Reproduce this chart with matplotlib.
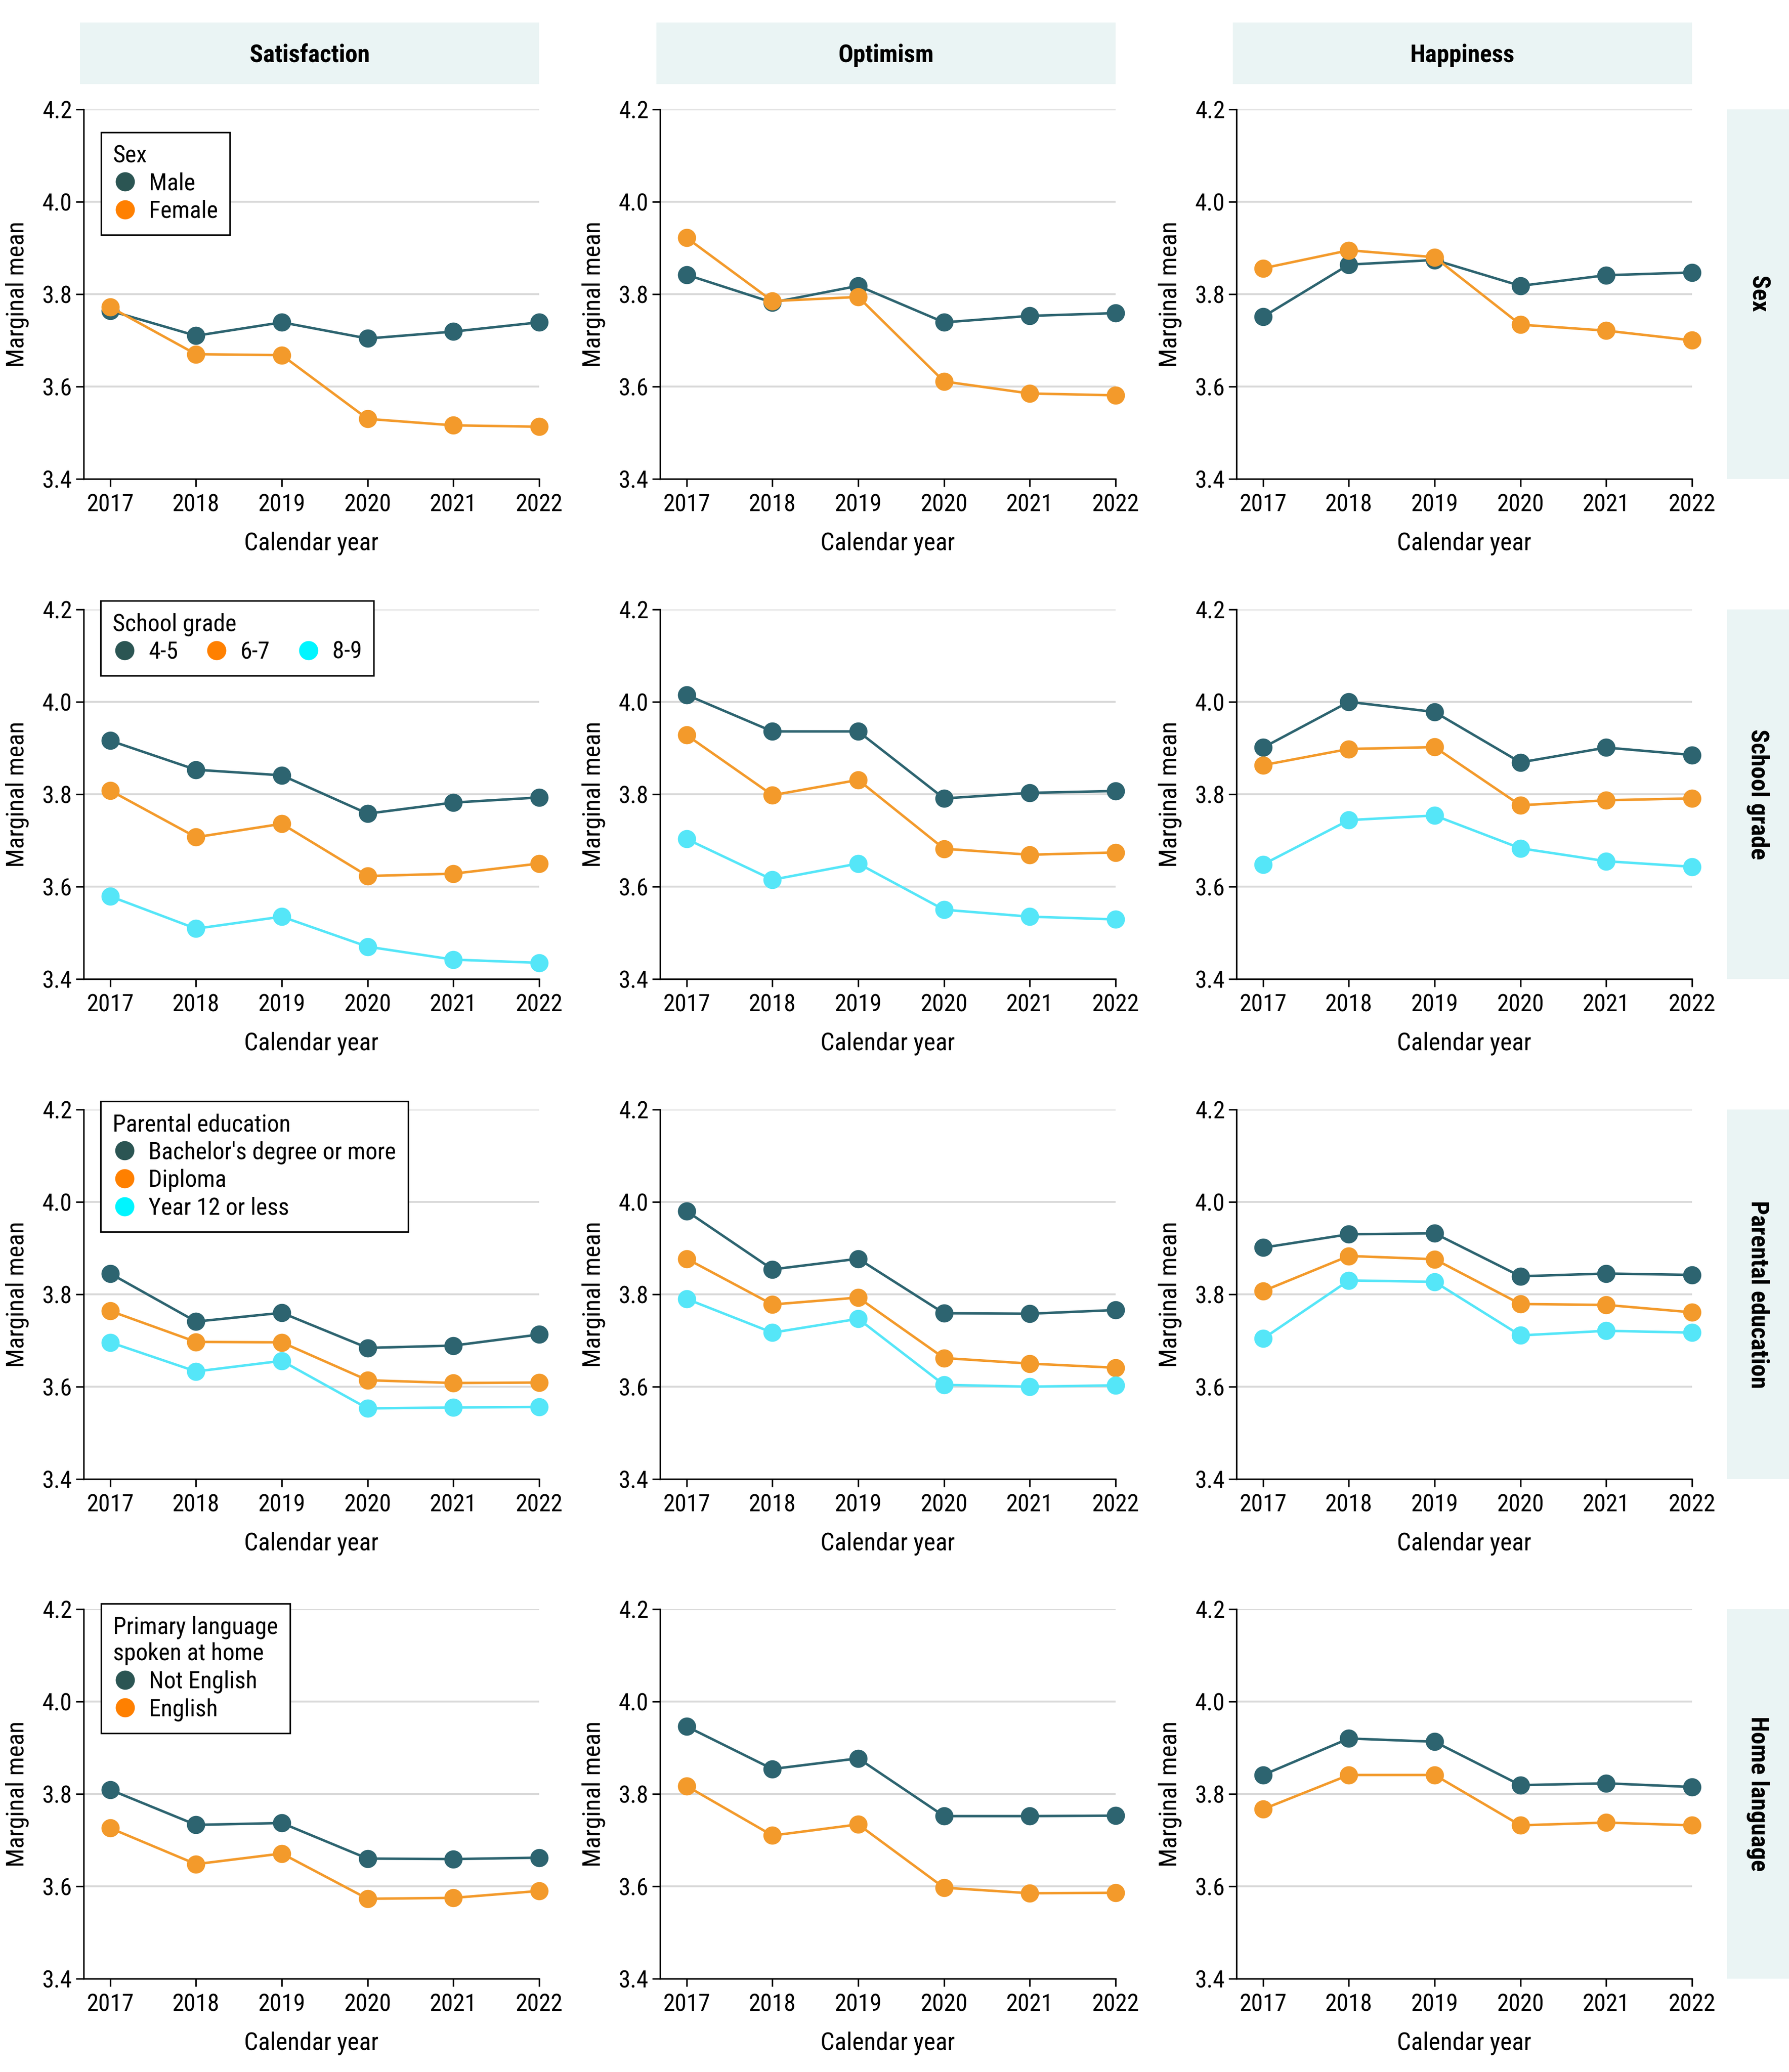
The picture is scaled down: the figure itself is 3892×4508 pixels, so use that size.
import matplotlib
matplotlib.use("Agg")
import matplotlib.pyplot as plt
from matplotlib.lines import Line2D

plt.rcParams['font.family'] = ['Liberation Sans Narrow', 'Roboto Condensed', 'Roboto', 'DejaVu Sans']

years = [2017, 2018, 2019, 2020, 2021, 2022]
outcomes = ['Satisfaction', 'Optimism', 'Happiness']
groupings = ['Sex', 'School grade', 'Parental education', 'Home language']

# row 1: sex
sat_male = [3.764, 3.710, 3.739, 3.704, 3.719, 3.739]
sat_female = [3.772, 3.670, 3.668, 3.530, 3.516, 3.513]
opt_male = [3.842, 3.782, 3.818, 3.739, 3.753, 3.759]
opt_female = [3.922, 3.785, 3.794, 3.611, 3.585, 3.581]
hap_male = [3.751, 3.864, 3.874, 3.818, 3.841, 3.847]
hap_female = [3.856, 3.895, 3.880, 3.734, 3.721, 3.700]

# row 2: school grade
sat_g45 = [3.916, 3.853, 3.841, 3.758, 3.782, 3.793]
sat_g67 = [3.808, 3.707, 3.736, 3.623, 3.628, 3.650]
sat_g89 = [3.579, 3.509, 3.535, 3.470, 3.442, 3.435]
opt_g45 = [4.015, 3.936, 3.936, 3.791, 3.803, 3.807]
opt_g67 = [3.928, 3.798, 3.831, 3.682, 3.669, 3.674]
opt_g89 = [3.703, 3.615, 3.650, 3.550, 3.535, 3.529]
hap_g45 = [3.901, 4.000, 3.978, 3.869, 3.901, 3.885]
hap_g67 = [3.863, 3.898, 3.902, 3.776, 3.787, 3.791]
hap_g89 = [3.648, 3.744, 3.754, 3.683, 3.655, 3.643]

# row 3: parental education
sat_bach = [3.845, 3.741, 3.760, 3.684, 3.689, 3.713]
sat_dipl = [3.764, 3.697, 3.696, 3.614, 3.608, 3.609]
sat_yr12 = [3.696, 3.633, 3.656, 3.553, 3.555, 3.556]
opt_bach = [3.980, 3.854, 3.877, 3.759, 3.758, 3.766]
opt_dipl = [3.877, 3.778, 3.793, 3.662, 3.650, 3.641]
opt_yr12 = [3.790, 3.717, 3.747, 3.604, 3.600, 3.603]
hap_bach = [3.901, 3.930, 3.932, 3.839, 3.845, 3.842]
hap_dipl = [3.807, 3.883, 3.876, 3.779, 3.777, 3.761]
hap_yr12 = [3.704, 3.830, 3.827, 3.711, 3.721, 3.717]

# row 4: home language
sat_noteng = [3.809, 3.733, 3.737, 3.660, 3.659, 3.662]
sat_eng = [3.726, 3.648, 3.671, 3.573, 3.575, 3.590]
opt_noteng = [3.946, 3.854, 3.877, 3.752, 3.752, 3.753]
opt_eng = [3.817, 3.710, 3.734, 3.597, 3.585, 3.586]
hap_noteng = [3.841, 3.920, 3.913, 3.819, 3.823, 3.815]
hap_eng = [3.767, 3.841, 3.841, 3.732, 3.738, 3.732]

legend_titles = ['Sex', 'School grade', 'Parental education', 'Primary language\nspoken at home']
level_labels = [['Male', 'Female'],
                ['4-5', '6-7', '8-9'],
                ["Bachelor's degree or more", 'Diploma', 'Year 12 or less'],
                ['Not English', 'English']]
panels = [
    [[sat_male, sat_female], [opt_male, opt_female], [hap_male, hap_female]],
    [[sat_g45, sat_g67, sat_g89], [opt_g45, opt_g67, opt_g89], [hap_g45, hap_g67, hap_g89]],
    [[sat_bach, sat_dipl, sat_yr12], [opt_bach, opt_dipl, opt_yr12], [hap_bach, hap_dipl, hap_yr12]],
    [[sat_noteng, sat_eng], [opt_noteng, opt_eng], [hap_noteng, hap_eng]],
]

line_colors = ['#2d6470', '#f39a2b', '#55e6f8']
legend_colors = ['#2b5553', '#ff8000', '#00f5ff']
strip_color = '#eaf4f4'

W, H = 3892, 4508
fig = plt.figure(figsize=(W / 300, H / 300), dpi=300)

col_left = [182, 1436, 2690]
ax_w = 991
row_top = [238, 1326, 2414, 3501]
ax_h = 804
legend_pos = [(220, 288), (219, 1307), (219, 2396), (220, 3489)]
legend_ncol = [1, 3, 1, 1]


def box(l, t, w, h):
    return [l / W, 1 - (t + h) / H, w / W, h / H]


for r in range(4):
    for c in range(3):
        ax = fig.add_axes(box(col_left[c], row_top[r], ax_w, ax_h))
        for k, vals in enumerate(panels[r][c]):
            ax.plot(years, vals, color=line_colors[k], lw=1.3, marker='o',
                    markersize=8.5, clip_on=False, zorder=3)
        ax.set_xlim(2016.69, 2022)
        ax.set_ylim(3.4, 4.2)
        ax.set_xticks(years)
        ax.set_yticks([3.4, 3.6, 3.8, 4.0, 4.2])
        ax.set_yticklabels(['3.4', '3.6', '3.8', '4.0', '4.2'])
        ax.yaxis.grid(True, color='#d9d9d9', lw=1.0)
        ax.set_axisbelow(True)
        for s in ['top', 'right']:
            ax.spines[s].set_visible(False)
        for s in ['left', 'bottom']:
            ax.spines[s].set_linewidth(0.8)
        ax.tick_params(axis='both', labelsize=12.5, width=0.8, length=4, color='black')
        ax.tick_params(axis='y', pad=2)
        ax.tick_params(axis='x', pad=3.5)
        ax.set_xlabel('Calendar year', fontsize=13, labelpad=8)
        ax.set_ylabel('Marginal mean', fontsize=13, labelpad=7)

        if c == 0:
            handles = [Line2D([], [], ls='none', marker='o', markersize=9,
                              color=legend_colors[k], label=lab)
                       for k, lab in enumerate(level_labels[r])]
            lx, ly = legend_pos[r]
            leg = ax.legend(handles=handles, title=legend_titles[r], ncol=legend_ncol[r],
                            loc='upper left', bbox_to_anchor=(lx / W, 1 - ly / H),
                            bbox_transform=fig.transFigure, borderaxespad=0,
                            fontsize=12.5, title_fontsize=12.5, frameon=True, fancybox=False,
                            framealpha=1, edgecolor='black', handlelength=1.0,
                            handletextpad=0.5, labelspacing=0.2, columnspacing=1.1,
                            borderpad=0.5, alignment='left')
            leg.get_frame().set_linewidth(0.8)
            leg.set_zorder(5)

        if r == 0:
            sax = fig.add_axes(box(col_left[c] - 8, 49, ax_w + 8, 134))
            sax.set_facecolor(strip_color)
            sax.set_xticks([])
            sax.set_yticks([])
            for s in sax.spines.values():
                s.set_visible(False)
            sax.text(0.5, 0.47, outcomes[c], ha='center', va='center',
                     fontsize=13, fontweight='bold', transform=sax.transAxes)

    rax = fig.add_axes(box(3757, row_top[r], W - 3757, ax_h))
    rax.set_facecolor(strip_color)
    rax.set_xticks([])
    rax.set_yticks([])
    for s in rax.spines.values():
        s.set_visible(False)
    rax.text(0.5, 0.5, groupings[r], ha='center', va='center', rotation=-90,
             fontsize=13, fontweight='bold', transform=rax.transAxes)

fig.savefig('out.png', dpi=300)
